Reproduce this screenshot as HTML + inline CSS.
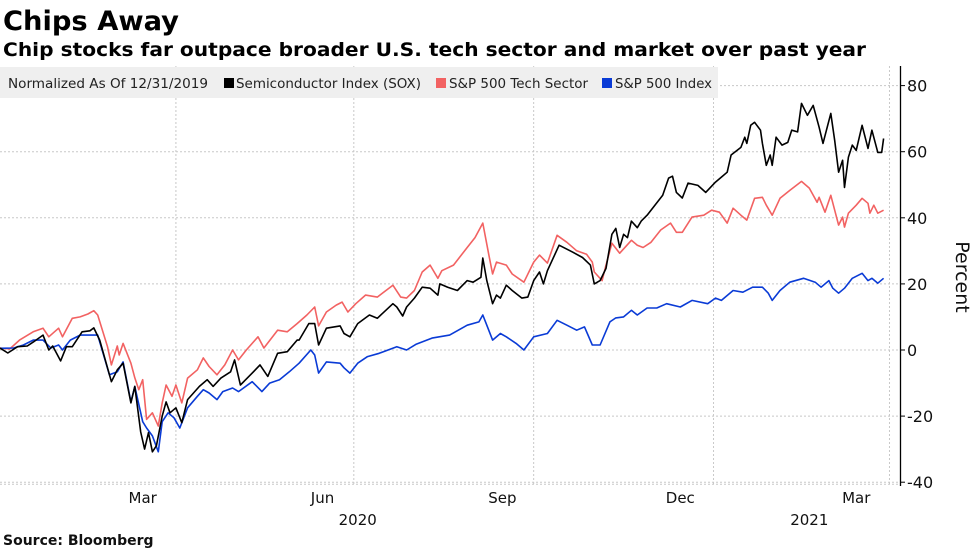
<!DOCTYPE html>
<html><head><meta charset="utf-8"><style>
html,body{margin:0;padding:0;background:#fff;}
svg{display:block;font-family:"DejaVu Sans","Liberation Sans",sans-serif;}
</style></head><body>
<svg id="chart" width="977" height="549" viewBox="0 0 977 549" xmlns="http://www.w3.org/2000/svg">
<text x="3" y="30" font-size="27" font-weight="bold" textLength="176" lengthAdjust="spacingAndGlyphs">Chips Away</text>
<text x="3" y="56" font-size="19" font-weight="bold" textLength="863" lengthAdjust="spacingAndGlyphs">Chip stocks far outpace broader U.S. tech sector and market over past year</text>
<g id="grid"></g>
<rect x="0" y="67" width="718" height="31" fill="#efefef"/>
<g font-size="13">
<text x="8" y="88" fill="#222" textLength="200" lengthAdjust="spacingAndGlyphs">Normalized As Of 12/31/2019</text>
<rect x="224" y="78" width="10" height="10" fill="#000"/>
<text x="236" y="88" fill="#222" textLength="185" lengthAdjust="spacingAndGlyphs">Semiconductor Index (SOX)</text>
<rect x="436" y="78" width="10" height="10" fill="#f26262"/>
<text x="449" y="88" fill="#222" textLength="139" lengthAdjust="spacingAndGlyphs">S&amp;P 500 Tech Sector</text>
<rect x="602" y="78" width="10" height="10" fill="#0a3bd6"/>
<text x="615" y="88" fill="#222" textLength="97" lengthAdjust="spacingAndGlyphs">S&amp;P 500 Index</text>
</g>
<g id="series"></g>
<g id="axes"></g>
<text transform="translate(956,277) rotate(90)" font-size="19" text-anchor="middle" fill="#111">Percent</text>
<text x="3" y="545" font-size="14" font-weight="bold" fill="#111">Source: Bloomberg</text>
</svg>
<script>
const soxDays=[1,5,10,15,18,23,26,28,32,35,38,43,47,49,52,56,58,61,64,68,70,73,75,77,79,81,84,86,88,91,94,97,100,103,107,110,114,119,121,124,130,134,138,143,148,153,154,159,162,164,168,175,177,180,184,190,194,202,204,207,209,213,217,221,225,226,230,235,240,243,247,248,250,253,255,257,260,263,268,271,274,277,279,281,284,287,294,299,303,305,308,311,314,316,318,320,322,324,327,329,332,336,340,343,345,347,350,353,358,362,367,370,373,375,380,382,383,385,387,390,391,393,395,396,398,401,404,406,409,411,414,417,420,422,426,428,430,432,433,435,437,439,442,445,447,450,452,453];
const soxValues=[0.6,-0.9,1,1.2,2.4,4.5,0,1.2,-3.3,1,1,5.5,5.8,6.7,3,-5.4,-9.6,-6,-4,-16,-11,-24.8,-30,-25,-30.8,-29,-20,-15.7,-19,-17.5,-22,-15,-13,-11,-9,-11,-8.5,-6.6,-3,-10.6,-7,-4.5,-8,-1,-0.5,3,3,8,8,1.5,6.6,7.3,5,4,8,10.6,9.6,14,13,10.3,13,15.7,19,18.7,16.6,20,19,18,21,20.5,22,27.8,21,14,16.6,15.7,19.6,18,15.7,16,21,23.6,20,24,27.8,31.7,29.6,28,25.7,20,21,24.7,35,36.8,31,35,34,39,37,39,40.8,43.8,46.8,52,52.6,47.7,46,50.5,49.8,47.7,50.8,52.3,53.8,59,61.3,64.4,62.5,68,68.9,66.5,62.5,55.9,59,55.9,64.4,62,62.8,66.5,66,74.6,71,74,67.4,62.5,71.6,63.4,53.8,57.4,49.2,58.3,62,60.4,68,61,66.5,59.8,59.8,64];
const techDays=[1,6,11,18,23,26,31,33,38,42,46,49,51,56,58,61,62,64,68,70,72,74,76,79,82,84,86,89,91,94,97,102,105,108,112,116,120,123,127,133,136,143,148,153,158,162,164,168,173,176,179,183,188,194,202,206,209,213,217,221,225,227,233,240,244,248,251,253,255,260,263,269,274,277,281,286,291,296,301,304,305,309,311,314,318,324,327,330,334,339,344,347,350,355,361,365,369,373,376,380,383,387,391,393,396,400,405,411,415,419,420,423,426,428,430,432,433,435,439,442,445,446,448,450,453];
const techValues=[0.6,0.3,3,5.5,6.6,4,6.6,4,9.6,10,10.9,11.9,10.6,1,-4.5,1.2,-1.5,2,-4,-8.4,-12,-9,-21,-19,-23,-16,-10.6,-14,-10.6,-16,-8.5,-6,-2.4,-5,-7.5,-4.5,0,-3,0,4,0.6,6,5.5,8,10.6,13,7.3,11.5,13.6,14.5,11.5,14,16.6,16,19.6,16,15.7,18,23.6,25.7,21.7,24,25.7,31,34,38.4,29,23,26.6,25.7,23,20.5,26.6,28.7,26.3,34.7,32.6,30,29,26.6,23.6,21,25.7,32.3,29.3,33.2,31.7,31,32.6,36.3,38.4,35.6,35.6,40.2,40.8,42.3,41.7,38.4,42.9,40.8,39.3,45.9,46.2,43.8,40.8,45.9,48.3,51,49,44.7,46.2,41.7,46.8,42.3,37.8,40.2,37.2,41.4,43.8,45.9,44.4,41.4,43.8,41.4,42.3];
const spxDays=[1,8,13,18,23,27,31,33,37,42,51,54,57,61,64,68,70,73,74,76,79,82,84,87,90,93,97,102,105,108,112,115,120,123,130,135,139,144,149,154,160,162,164,168,175,177,180,184,189,195,204,209,214,222,231,240,246,248,250,253,257,260,265,269,274,281,286,291,296,300,304,308,313,316,320,324,327,332,337,342,349,355,363,367,370,376,381,386,391,394,396,400,405,412,418,421,425,427,430,433,437,442,445,447,450,453];
const spxValues=[0.5,0.6,1.5,3,3,0.6,1.5,0,3,4.5,4.5,-1.5,-7.5,-6.6,-3.6,-15.7,-11,-19,-21.7,-23.6,-26,-30.8,-21.7,-19,-20.5,-23.6,-17.5,-14,-12,-13,-15,-12.6,-11.5,-12.6,-9.6,-12.6,-10,-9,-6.6,-4,0,-1.5,-7,-3.6,-4,-5.4,-7,-4,-2,-1,1,0,1.8,3.6,4.5,7.5,8.5,10.6,7.5,3,5,4,2,0,4,5,9,7.5,6,7,1.5,1.5,8.5,9.7,10,12,10.6,12.7,12.7,14,13,15,14,15.7,15,18,17.5,19,19,17.2,15,18,20.5,21.7,20.5,19,21,18.7,17.2,18.7,21.7,23.2,21,21.7,20.2,21.7];
const yTicks=[80,60,40,20,0,-20,-40];
const gridDays=[91,182,274,366,456];
const monthLabels=["Mar","Jun","Sep","Dec","Mar"];
const monthDays=[74,166,258,349,439];
const yearLabels=["2020","2021"];
const yearDays=[184,415];

const NS="http://www.w3.org/2000/svg";
const X0=-2, PXD=1.955, Y0=350, PXV=3.305;
function xs(d){return X0+d*PXD;}
function ys(v){return Y0-v*PXV;}
function mk(tag,attrs,parent){const e=document.createElementNS(NS,tag);for(const k in attrs)e.setAttribute(k,attrs[k]);parent.appendChild(e);return e;}
const grid=document.getElementById('grid'), axes=document.getElementById('axes'), ser=document.getElementById('series');
yTicks.forEach(v=>{
  const l=mk('line',{x1:0,x2:900,y1:ys(v),y2:ys(v),stroke:'#c8c8c8','stroke-width':1,'stroke-dasharray':'2,2'},grid);
  
  
  const t=mk('line',{x1:900,x2:905,y1:ys(v),y2:ys(v),stroke:'#000','stroke-width':1},axes);
  
  
  const tx=mk('text',{x:907,y:ys(v)+6,'font-size':16,fill:'#111'},axes);
  tx.textContent=String(v);
  
  
});
gridDays.forEach(d=>{
  const l=mk('line',{x1:xs(d),x2:xs(d),y1:66,y2:484,stroke:'#c8c8c8','stroke-width':1,'stroke-dasharray':'2,2'},grid);
  
  
});
const bl=mk('line',{x1:0,x2:900,y1:ys(-40)+2,y2:ys(-40)+2,stroke:'#c8c8c8','stroke-dasharray':'2,2'},grid);


const ax=mk('line',{x1:900.5,x2:900.5,y1:66,y2:486,stroke:'#000','stroke-width':1.3},axes);


monthLabels.forEach((m,i)=>{
  const t=mk('text',{x:xs(monthDays[i]),y:503,'font-size':15,'text-anchor':'middle',fill:'#111'},axes);
  t.textContent=m;
  
  
});
yearLabels.forEach((m,i)=>{
  const t=mk('text',{x:xs(yearDays[i]),y:525,'font-size':15,'text-anchor':'middle',fill:'#111'},axes);
  t.textContent=m;
  
  
});
function line(days,vals,color,name){
  const d=days.map((dd,i)=>(i?'L':'M')+xs(dd).toFixed(1)+' '+ys(vals[i]).toFixed(1)).join(' ');
  const p=mk('path',{d:d,fill:'none',stroke:color,'stroke-width':1.6,'stroke-linejoin':'round'},ser);
  
  
}
line(techDays,techValues,'#f26262','line-sp500-tech');
line(spxDays,spxValues,'#0a3bd6','line-sp500-index');
line(soxDays,soxValues,'#000000','line-semiconductor-index');
</script>
</body></html>
